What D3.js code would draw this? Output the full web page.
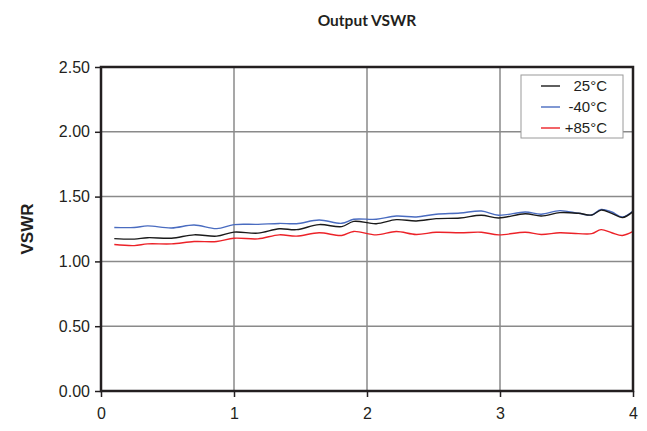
<!DOCTYPE html>
<html>
<head>
<meta charset="utf-8">
<script src="https://cdn.jsdelivr.net/npm/d3@7"></script>
<style>
  body { margin: 0; background: #fff; }
  svg { display: block; }
</style>
</head>
<body>
<div id="chart"></div>
<script>
// frequency points (x axis) and VSWR per temperature
var freq = [0.1, 0.25, 0.35, 0.53, 0.7, 0.87, 1.0, 1.18, 1.34, 1.47, 1.64, 1.81, 1.9, 2.07, 2.22, 2.37, 2.52, 2.7, 2.86, 2.99, 3.19, 3.31, 3.45, 3.59, 3.69, 3.76, 3.84, 3.92, 4.0];
var vswr25 = [1.176, 1.172, 1.183, 1.179, 1.205, 1.195, 1.226, 1.218, 1.252, 1.245, 1.284, 1.268, 1.309, 1.291, 1.322, 1.312, 1.33, 1.335, 1.356, 1.335, 1.368, 1.35, 1.376, 1.371, 1.358, 1.396, 1.371, 1.338, 1.384];
var vswrM40 = [1.262, 1.262, 1.274, 1.258, 1.281, 1.253, 1.284, 1.286, 1.293, 1.291, 1.319, 1.294, 1.325, 1.325, 1.35, 1.343, 1.364, 1.373, 1.389, 1.356, 1.381, 1.364, 1.392, 1.371, 1.358, 1.401, 1.381, 1.343, 1.389];
var vswr85 = [1.13, 1.122, 1.135, 1.135, 1.153, 1.153, 1.179, 1.174, 1.205, 1.195, 1.221, 1.2, 1.231, 1.205, 1.231, 1.208, 1.225, 1.221, 1.225, 1.205, 1.225, 1.208, 1.221, 1.214, 1.214, 1.245, 1.221, 1.2, 1.231];

var seriesNames = ["25°C", "-40°C", "+85°C"];
var seriesColors = ["#1a1a1a", "#4a6cc0", "#ec2228"];
var xTicks = [0, 1, 2, 3, 4];
var yTicks = [0, 0.5, 1, 1.5, 2, 2.5];

var W = 647, H = 431;
var margin = {top: 67, right: 14, bottom: 40, left: 101};
var width = W - margin.left - margin.right;
var height = H - margin.top - margin.bottom;

var svg = d3.select("#chart").append("svg")
  .attr("width", W)
  .attr("height", H);

svg.append("text")
  .attr("x", 367)
  .attr("y", 26)
  .attr("text-anchor", "middle")
  .style("font", "bold 15.5px Lato, sans-serif")
  .style("fill", "#231f20")
  .text("Output VSWR");

var g = svg.append("g")
  .attr("transform", "translate(" + margin.left + "," + margin.top + ")");

var x = d3.scaleLinear().domain([0, 4]).range([0, width]);
var y = d3.scaleLinear().domain([0, 2.5]).range([height, 0]);

// grid
g.selectAll(".vgrid")
  .data(xTicks.slice(1, -1))
  .enter().append("line")
  .attr("x1", function(d) { return x(d); })
  .attr("x2", function(d) { return x(d); })
  .attr("y1", 0)
  .attr("y2", height)
  .attr("stroke", "#8a8a8a")
  .attr("stroke-width", 1.5);

g.selectAll(".hgrid")
  .data(yTicks.slice(1, -1))
  .enter().append("line")
  .attr("x1", 0)
  .attr("x2", width)
  .attr("y1", function(d) { return y(d); })
  .attr("y2", function(d) { return y(d); })
  .attr("stroke", "#8a8a8a")
  .attr("stroke-width", 1.5);

// lines
var tables = [vswr25, vswrM40, vswr85];
var line = d3.line()
  .x(function(d) { return x(d[0]); })
  .y(function(d) { return y(d[1]); })
  .curve(d3.curveCatmullRom);

// draw -40 first, then 25 and 85 on top
[1, 0, 2].forEach(function(i) {
  g.append("path")
    .datum(d3.zip(freq, tables[i]))
    .attr("fill", "none")
    .attr("stroke", seriesColors[i])
    .attr("stroke-width", 1.4)
    .attr("d", line);
});

// axes
var xAxis = d3.axisBottom(x).tickValues(xTicks).tickFormat(d3.format("d")).tickSize(6).tickPadding(11);
var yAxis = d3.axisLeft(y).tickValues(yTicks).tickFormat(d3.format(".2f")).tickSize(6).tickPadding(5);

var gx = g.append("g").attr("transform", "translate(0," + height + ")").call(xAxis);
var gy = g.append("g").call(yAxis);

[gx, gy].forEach(function(a) {
  a.select(".domain").remove();
  a.selectAll(".tick line").attr("stroke", "#231f20").attr("stroke-width", 1.5);
  a.selectAll(".tick text")
    .attr("fill", "#231f20")
    .style("font", "16px 'Liberation Sans', Arial, sans-serif");
});

// frame
g.append("rect")
  .attr("x", 0)
  .attr("y", 0)
  .attr("width", width)
  .attr("height", height)
  .attr("fill", "none")
  .attr("stroke", "#231f20")
  .attr("stroke-width", 2.5);

svg.append("text")
  .attr("transform", "translate(33," + (margin.top + height / 2) + ") rotate(-90)")
  .attr("text-anchor", "middle")
  .style("font", "bold 17px 'Liberation Sans', Arial, sans-serif")
  .style("fill", "#231f20")
  .text("VSWR");

// legend
var legend = svg.append("g");
legend.append("rect")
  .attr("x", 521)
  .attr("y", 75)
  .attr("width", 102)
  .attr("height", 63)
  .attr("fill", "#fff")
  .attr("stroke", "#9a9a9a")
  .attr("stroke-width", 1);

var items = legend.selectAll(".item")
  .data(seriesNames)
  .enter().append("g")
  .attr("transform", function(d, i) { return "translate(0," + (86 + i * 21) + ")"; });

items.append("line")
  .attr("x1", 541)
  .attr("x2", 560)
  .attr("stroke", function(d, i) { return seriesColors[i]; })
  .attr("stroke-width", 1.4);

items.append("text")
  .attr("x", 607)
  .attr("dy", "0.35em")
  .attr("text-anchor", "end")
  .style("font", "15px 'Liberation Sans', Arial, sans-serif")
  .style("fill", "#231f20")
  .text(function(d) { return d; });
</script>
</body>
</html>
